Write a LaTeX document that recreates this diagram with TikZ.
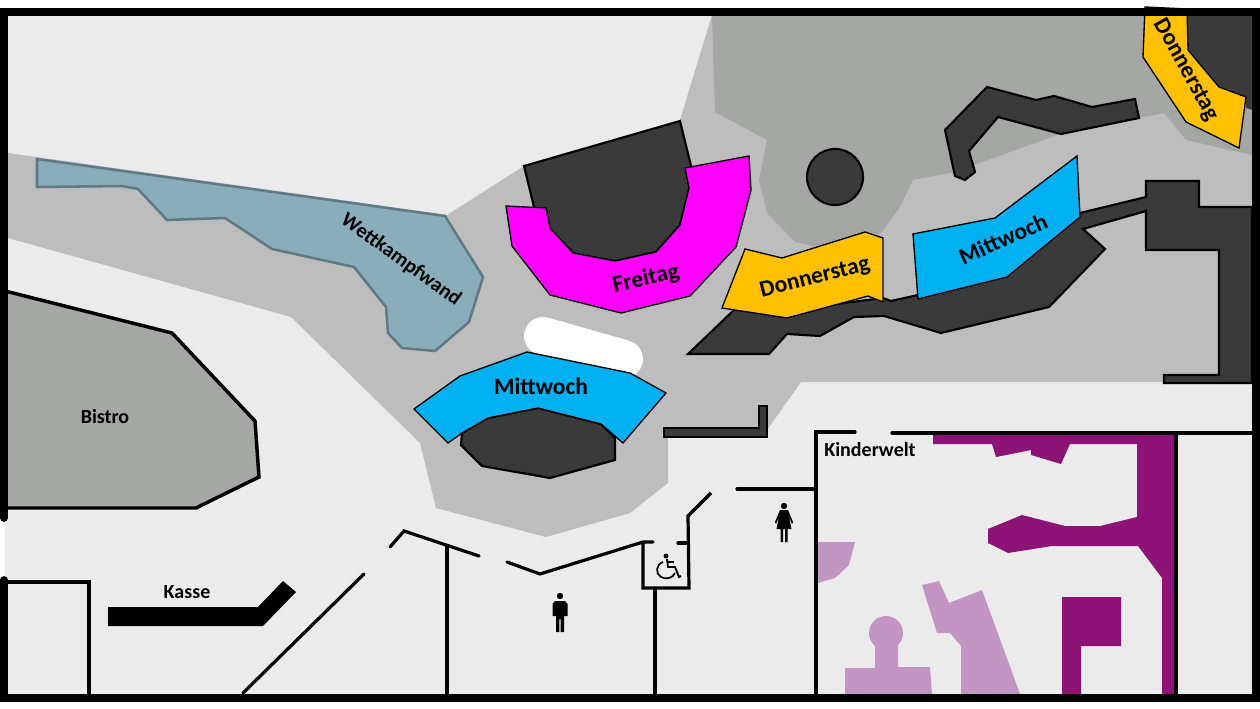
\documentclass[tikz,border=0pt]{standalone}
\usepackage{fontspec}
\setmainfont{Carlito}
\usepackage{xcolor}
\definecolor{floorcolor}{RGB}{236, 235, 236}
\definecolor{lightzone}{RGB}{189, 189, 189}
\definecolor{darkzone}{RGB}{165, 167, 165}
\definecolor{blockcolor}{RGB}{58, 58, 58}
\definecolor{climbcolor}{RGB}{138, 173, 187}
\definecolor{climbedge}{RGB}{95, 122, 133}
\definecolor{fridaycolor}{RGB}{255, 0, 255}
\definecolor{thursdaycolor}{RGB}{255, 192, 0}
\definecolor{wednesdaycolor}{RGB}{0, 176, 240}
\definecolor{kidsdark}{RGB}{141, 19, 118}
\definecolor{kidslight}{RGB}{194, 149, 194}

\begin{document}
\begin{tikzpicture}[
    x=0.75pt, y=-0.75pt,
    block/.style={draw=black, fill=blockcolor, line width=1.6pt},
    stand/.style={draw=black, line width=1pt},
    wall/.style={draw=black, line width=2.4pt},
    frameline/.style={draw=black, line width=5.8pt, line cap=round},
    kidsmain/.style={fill=kidsdark},
    kidssoft/.style={fill=kidslight},
    pictogram/.style={fill=black},
    big/.style={font=\fontsize{17.6}{20}\selectfont\bfseries, inner sep=0pt},
    small/.style={font=\fontsize{15}{17}\selectfont\bfseries, inner sep=0pt}
]
    \useasboundingbox (0,0) rectangle (1260,709);
    \fill[white] (0,0) rectangle (1260,709);

    % Floor and grey zones
    \fill[floorcolor] (5,12) rectangle (1256,698);
    \fill[lightzone] (8,153) -- (447,215) -- (524,166) -- (680,120) -- (712,15) -- (1252,15) -- (1252,382)
        -- (801,382) -- (767,430) -- (668,437) -- (668,483) -- (630,513) -- (546,537) -- (436,508)
        -- (420,443) -- (291,317) -- (8,238) -- cycle;
    \fill[darkzone] (712,15) -- (715,112) -- (767,140) -- (759,180) -- (767,213) -- (795,242) -- (830,250)
        -- (881,233) -- (900,207) -- (913,180) -- (955,172) -- (1060,134) -- (1164,113) -- (1186,140)
        -- (1252,155) -- (1252,15) -- cycle;

    % Dark blocks
    \draw[block] (524,166) -- (680,121) -- (692,170) -- (689,190) -- (680,225) -- (656,252) -- (615,261)
        -- (575,254) -- (548,228) -- (534,207) -- cycle;
    \draw[block] (835,177) circle (28);
    \draw[block] (987,87) -- (1036,100) -- (1054,96) -- (1092,107) -- (1135,99) -- (1139,118) -- (1061,134)
        -- (998,117) -- (969,151) -- (975,172) -- (965,180) -- (955,176) -- (945,130) -- cycle;
    \fill[blockcolor] (1187,15) -- (1252,15) -- (1252,110) -- (1246,108) -- (1246,97) -- (1219,87) -- (1188,50) -- cycle;
    \draw[block] (688,354) -- (734,310) -- (790,310) -- (883,298) -- (891,301) -- (918,295) -- (1080,213)
        -- (1146,197) -- (1146,181) -- (1199,181) -- (1199,207) -- (1252,207) -- (1252,383) -- (1164,383)
        -- (1164,375) -- (1219,375) -- (1219,250) -- (1146,250) -- (1146,211) -- (1083,229) -- (1105,249)
        -- (1049,307) -- (941,333) -- (884,316) -- (854,317) -- (820,336) -- (787,334) -- (769,354) -- cycle;
    \draw[block] (664,428) -- (759,428) -- (759,406) -- (767,406) -- (767,437) -- (664,437) -- cycle;
    \draw[block] (462,433) -- (488,418) -- (538,408) -- (601,424) -- (615,438) -- (615,460) -- (550,478)
        -- (482,466) -- (461,445) -- cycle;

    % White stage and grey rooms
    \draw[white, line width=28.5pt, line cap=round] (543,336) -- (624,359);
    \fill[darkzone] (5,291) -- (172,333) -- (255,421) -- (259,477) -- (196,508) -- (5,508) -- cycle;
    \draw[line width=2.6pt] (5,291) -- (172,333) -- (255,421) -- (259,477) -- (196,508) -- (5,508);
    \draw[draw=climbedge, fill=climbcolor, line width=1.9pt] (37,159) -- (445,216) -- (483,277) -- (469,322)
        -- (435,351) -- (402,348) -- (388,333) -- (386,307) -- (354,267) -- (272,249) -- (225,218)
        -- (167,220) -- (138,189) -- (122,186) -- (37,187) -- cycle;

    % Stands
    \draw[stand, fill=fridaycolor] (506,206) -- (546,208) -- (550,228) -- (573,253) -- (615,261) -- (656,252)
        -- (680,225) -- (689,188) -- (685,168) -- (749,156) -- (751,190) -- (736,247) -- (690,296)
        -- (621,313) -- (550,295) -- (512,246) -- cycle;
    \draw[stand, fill=thursdaycolor] (745,249) -- (782,258) -- (865,232) -- (883,238) -- (883,302) -- (868,296)
        -- (787,318) -- (722,308) -- cycle;
    \draw[stand, fill=wednesdaycolor] (913,234) -- (995,218) -- (1077,156) -- (1080,217) -- (1007,277)
        -- (918,299) -- cycle;
    \draw[stand, fill=thursdaycolor] (1145,7) -- (1187,9) -- (1188,50) -- (1219,87) -- (1246,97) -- (1239,148)
        -- (1186,122) -- (1143,57) -- cycle;
    \draw[stand, fill=wednesdaycolor] (414,409) -- (460,376) -- (527,352) -- (630,373) -- (666,393) -- (623,443)
        -- (601,424) -- (538,408) -- (488,418) -- (462,433) -- (448,443) -- cycle;

    % Kinderwelt
    \fill[kidsmain] (933,435) -- (933,444) -- (992,444) -- (996,457) -- (1031,450) -- (1031,455) -- (1061,464)
        -- (1070,444) -- (1137,444) -- (1137,517) -- (1100,526) -- (1065,526) -- (1022,515) -- (988,529)
        -- (988,543) -- (1008,553) -- (1052,546) -- (1138,546) -- (1162,578) -- (1162,694) -- (1174,694)
        -- (1174,435) -- cycle;
    \fill[kidsmain] (1062,597) -- (1121,597) -- (1121,646) -- (1081,646) -- (1081,694) -- (1062,694) -- cycle;
    \fill[kidssoft] (818,542) -- (855,542) -- (849,565) -- (835,578) -- (818,583) -- cycle;
    \fill[kidssoft] (845,668) -- (875,668) -- (875,645) -- (898,645) -- (898,667) -- (930,667) -- (932,694)
        -- (845,694) -- cycle;
    \fill[kidssoft] (886,633) circle (17);
    \fill[kidssoft] (922,585) -- (939,581) -- (949,603) -- (982,590) -- (1020,694) -- (961,694) -- (961,646)
        -- (950,633) -- (937,633) -- cycle;

    % Walls
    \draw[wall] (5,582) -- (89,582) -- (89,697);
    \draw[wall, line cap=round] (364,574) -- (243,693);
    \draw[wall, line cap=round] (390,547) -- (404,531) -- (479,556);
    \draw[wall] (447,546) -- (447,697);
    \draw[wall, line cap=round] (507,562) -- (540,574) -- (643,542) -- (653,542);
    \draw[wall] (643,542) -- (643,588) -- (689,588) -- (688,516) -- (711,493);
    \draw[wall, line cap=round] (678,543) -- (688,543);
    \draw[wall] (655,588) -- (655,697);
    \draw[wall, line cap=round] (737,489) -- (816,489);
    \draw[wall, line cap=round] (855,432) -- (816,432) -- (816,697);
    \draw[wall, line cap=round] (892,433) -- (1252,433);
    \draw[wall] (1176,433) -- (1176,697);
    \fill[black] (108,607) -- (258,607) -- (283,581) -- (296,592) -- (263,626) -- (108,626) -- cycle;

    % Outer frame
    \draw[frameline] (4,518) -- (4,12) -- (1256,12) -- (1256,698) -- (4,698) -- (4,580);

    % Man, woman, wheelchair
    \fill[pictogram] (560,596) circle (3.2);
    \fill[pictogram] (555,601) -- (565,601) -- (567.5,604) -- (567.5,616) -- (564,616) -- (564,632) -- (560.6,632)
        -- (560.6,619) -- (559.4,619) -- (559.4,632) -- (556,632) -- (556,616) -- (552.5,616) -- (552.5,604) -- cycle;
    \fill[pictogram] (784,506) circle (3.2);
    \fill[pictogram] (780,510) -- (788,510) -- (793,522) -- (792,524) -- (789,517) -- (791.5,529) -- (787.5,529)
        -- (787.5,542) -- (785,542) -- (785,529) -- (783,529) -- (783,542) -- (780.5,542) -- (780.5,529)
        -- (776.5,529) -- (779,517) -- (776,524) -- (775,522) -- cycle;
    \fill[pictogram] (666,556) circle (2.4);
    \draw[line width=1.4pt] (667,559) -- (668,567) -- (675,567) -- (679,577) -- (681,576);
    \draw[line width=1.2pt] (668,562) -- (674,562);
    \draw[line width=1.3pt] (663,562) .. controls (656,564) and (655,574) .. (661,577) .. controls (666,580) and (673,578) .. (675,573);

    % Labels
    \node[small, font=\fontsize{15.4}{17}\selectfont\bfseries, rotate=-36] (wandlabel) at (401,260) {Wettkampfwand};
    \node[big, rotate=13] (freitaglabel) at (646,279) {Freitag};
    \node[big, rotate=14] (donnerstaglabel) at (815,278) {Donnerstag};
    \node[big, rotate=24] (mittwochlabel) at (1003,239) {Mittwoch};
    \node[big, rotate=-61] (donnerstagtop) at (1186,70) {Donnerstag};
    \node[big] (mittwochmain) at (541,386) {Mittwoch};
    \node[small] (bistro) at (105,417) {Bistro};
    \node[small] (kasse) at (187,592) {Kasse};
    \node[small] (kinderwelt) at (870,450) {Kinderwelt};
\end{tikzpicture}
\end{document}
